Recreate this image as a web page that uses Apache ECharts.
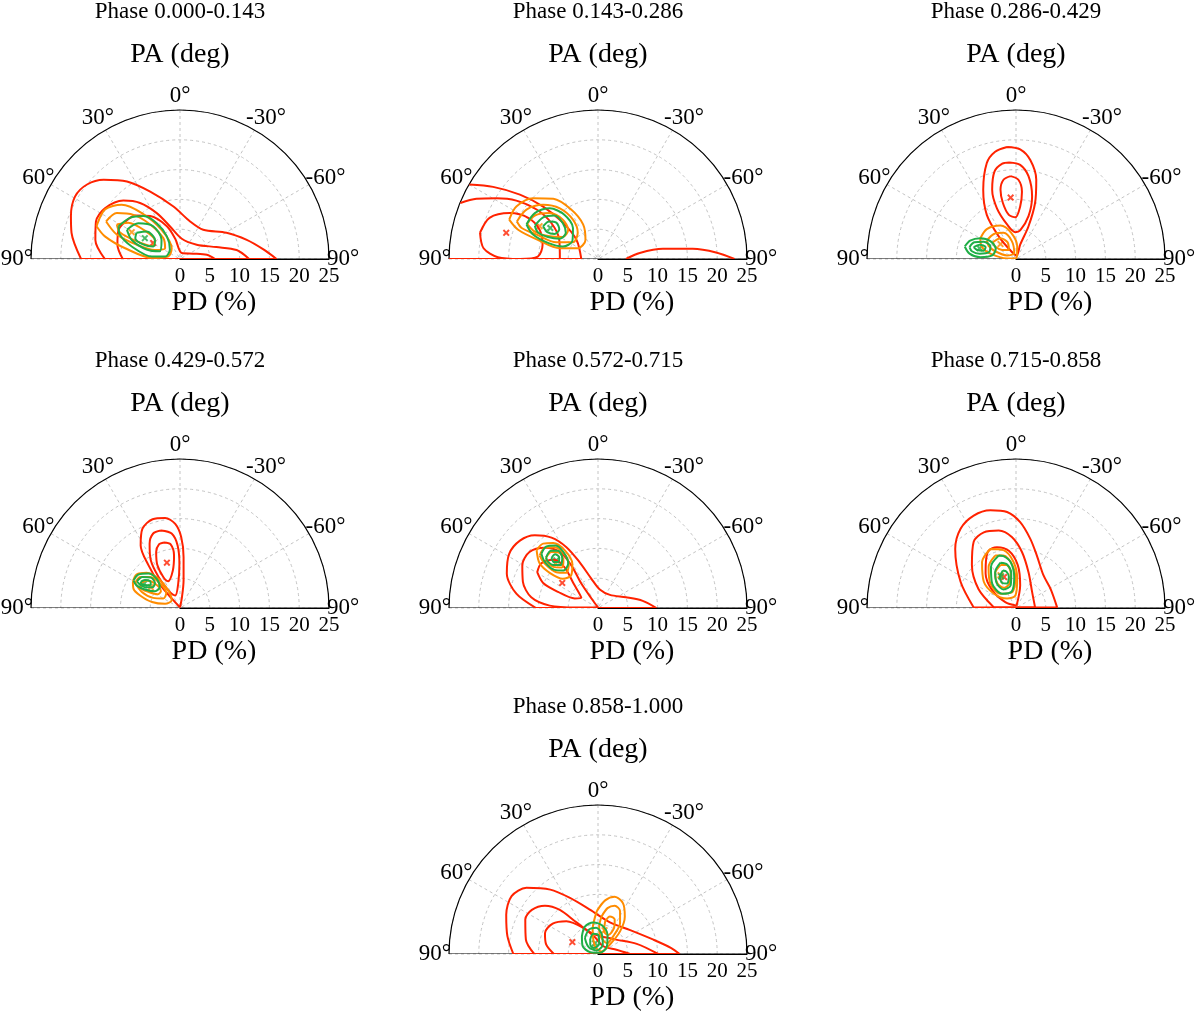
<!DOCTYPE html>
<html>
<head>
<meta charset="utf-8">
<script src="https://cdn.jsdelivr.net/npm/echarts@6/dist/echarts.min.js"></script>
<style>
  html, body { margin: 0; padding: 0; background: #fff; }
  #chart { width: 1200px; height: 1014px; }
</style>
</head>
<body>
<div id="chart"></div>
<script>
// one half-polar panel per phase bin
const phases = ['Phase 0.000-0.143', 'Phase 0.143-0.286', 'Phase 0.286-0.429',
  'Phase 0.429-0.572', 'Phase 0.572-0.715', 'Phase 0.715-0.858', 'Phase 0.858-1.000'];
const pdTicks = [0, 5, 10, 15, 20, 25];
const paTicks = [-90, -60, -30, 0, 30, 60, 90];

// contour vertices as [x, y] in PD (%) units,
// x to the right and y up from the origin (PA = 0 points up, PA = 90 left)
const p1Red = [
  [[-16.6,0],[-18.2,4.4],[-18.3,7.2],[-17.6,10.5],[-15.6,12.5],[-12.8,13.3],[-8.9,13.0],[-5.0,11.3],[-1.1,8.8],[1.7,6.3],[3.9,4.9],[7.8,4.4],[11.2,3.2],[14.0,1.6],[16.2,0]],
  [[-12.6,0],[-14.2,3.2],[-14.1,6.3],[-12.6,8.5],[-9.5,9.8],[-6.7,9.4],[-3.9,7.7],[-1.7,5.5],[0.3,3.4],[2.8,2.4],[6.1,2.0],[9.5,1.5],[11.6,0]],
  [[-9.6,0],[-10.5,2.4],[-10.3,4.9],[-8.9,6.5],[-7.5,7.3],[-5.0,7.2],[-2.2,5.5],[-0.8,3.4],[0.3,1.0],[2.2,0.9],[4.5,0.7],[5.9,0]]
];
const p1Orange = [
  [[-14.0,5.5],[-12.6,8.3],[-9.8,9.1],[-6.4,7.7],[-3.1,4.9],[-1.4,1.8],[-2.0,0.4],[-4.7,0.2],[-9.2,1.8],[-12.6,3.8]],
  [[-12.4,6.3],[-10.6,7.7],[-7.8,7.4],[-5.0,5.8],[-2.8,3.5],[-2.5,1.8],[-4.2,1.5],[-7.3,2.4],[-10.6,4.1]],
  [[-10.6,5.8],[-8.7,6.1],[-6.1,4.9],[-4.2,3.1],[-4.7,2.2],[-7.3,3.0],[-10.1,4.5]]
];
const p1Green = [
  [[-10.3,5.5],[-8.4,6.9],[-6.1,7.2],[-3.9,6.0],[-2.2,3.8],[-1.7,1.6],[-2.5,0.4],[-4.7,0.4],[-8.1,2.1],[-10.1,4.1]],
  [[-8.9,4.9],[-7.0,6.0],[-4.5,5.5],[-3.1,3.2],[-3.4,1.3],[-5.6,1.6],[-8.1,3.2]],
  [[-7.3,4.4],[-5.6,4.6],[-4.2,3.2],[-4.5,2.1],[-6.1,2.4],[-7.5,3.5]]
];
const p1Peaks = [[-4.5,2.7],[-8.1,4.5],[-5.9,3.5]]; // red, orange, green

const p2Red = [
  [[-19.8,4.4],[-18.2,6.9],[-14.8,7.7],[-11.7,6.9],[-9.8,4.9],[-9.3,2.4],[-10.1,0.4],[-13.1,0],[-16.8,0.3],[-19.2,1.8]]
];
// contours cut by the plot edge, drawn open
const p2RedOpen = [
  [[-21.6,12.5],[-17.6,12.1],[-13.1,10.8],[-9.2,8.8],[-5.9,6.1],[-3.6,3.2],[-2.8,0],[-25.0,0]],
  [[-23.1,9.4],[-20.4,10.1],[-17.0,10.2],[-13.7,9.8],[-10.3,8.3],[-7.8,6.0],[-6.5,3.2],[-6.4,0]],
  [[4.7,0],[7.0,1.0],[10.9,1.7],[15.9,1.7],[19.8,1.1],[22.9,0]]
];
const p2Orange = [
  [[-14.9,6.6],[-13.7,8.8],[-10.9,10.2],[-7.5,10.1],[-4.5,8.3],[-2.5,5.8],[-2.1,3.2],[-3.4,1.8],[-6.4,1.8],[-10.1,3.2],[-13.4,4.9]],
  [[-13.6,6.3],[-12.0,8.3],[-9.2,9.1],[-6.4,8.5],[-4.2,6.6],[-3.4,4.4],[-4.2,2.8],[-7.0,2.8],[-10.3,4.1],[-12.8,5.2]],
  [[-11.9,5.9],[-10.6,7.3],[-8.1,7.7],[-5.9,6.6],[-5.0,4.9],[-5.9,3.7],[-8.1,3.8],[-10.6,4.6]]
];
const p2Green = [
  [[-12.0,5.8],[-10.6,7.7],[-8.1,8.5],[-5.6,7.4],[-4.2,5.2],[-4.3,3.0],[-5.9,2.1],[-8.4,2.7],[-10.9,4.1]],
  [[-10.6,5.6],[-9.2,7.0],[-7.3,7.3],[-5.9,6.0],[-5.4,4.4],[-6.4,3.4],[-8.4,3.7],[-10.1,4.5]],
  [[-9.2,5.5],[-8.2,6.3],[-7.0,6.1],[-6.5,5.0],[-7.3,4.2],[-8.5,4.5]]
];
const p2Peaks = [[-15.4,4.4],[-9.8,5.5],[-8.0,5.2]];

const p3Red = [
  [[-1.5,18.8],[0.7,18.4],[2.4,16.6],[3.4,13.3],[3.2,9.4],[2.1,5.5],[0.7,2.4],[0.1,0.6],[-0.8,1.3],[-2.9,3.8],[-4.9,7.4],[-5.5,11.6],[-4.9,16.1],[-3.5,18.0]],
  [[-1.1,16.2],[0.7,15.8],[2.1,13.9],[2.7,10.5],[2.1,7.2],[0.7,4.8],[-0.1,4.5],[-1.5,5.8],[-3.2,8.5],[-4.0,11.6],[-3.6,14.7],[-2.3,16.0]],
  [[-0.9,13.9],[0.4,13.3],[1.0,11.3],[0.7,8.8],[-0.1,7.0],[-1.2,7.4],[-2.2,9.4],[-2.6,11.6],[-2.1,13.3]]
];
const p3Orange = [
  [[-6.0,3.4],[-4.9,5.0],[-2.6,5.6],[-0.8,4.4],[0.2,2.1],[0.1,0.2],[-1.5,0.1],[-4.3,0.9],[-5.7,2.0]],
  [[-4.9,3.1],[-3.7,4.2],[-2.1,4.4],[-0.7,3.0],[-0.3,1.0],[-1.5,0.6],[-3.5,1.3],[-4.6,2.2]],
  [[-3.9,2.8],[-2.6,3.5],[-1.4,2.8],[-1.2,1.5],[-2.3,1.5],[-3.4,2.0]]
];
const p3Green = [
  [[-8.6,2.1],[-7.7,3.1],[-6.0,3.5],[-4.3,3.0],[-3.4,1.7],[-4.0,0.6],[-6.0,0.3],[-7.8,0.9]],
  [[-7.8,2.0],[-7.0,2.8],[-5.4,2.9],[-4.3,2.1],[-4.6,1.1],[-6.1,0.9],[-7.4,1.3]],
  [[-7.1,2.0],[-6.1,2.4],[-5.1,2.0],[-5.4,1.4],[-6.5,1.5]]
];
const p3Peaks = [[-0.9,10.3],[-2.6,2.5],[-6.1,1.8]];

const p4Red = [
  [[0.0,0.1],[-1.4,1.6],[-3.4,4.0],[-5.3,7.2],[-6.6,10.5],[-6.3,13.3],[-4.6,14.9],[-2.5,15.1],[-0.8,14.1],[0.2,11.9],[0.6,8.5],[0.6,4.6],[0.3,1.6]],
  [[-3.2,13.0],[-1.4,12.5],[-0.4,10.5],[-0.1,7.4],[-0.3,4.1],[-0.8,2.1],[-2.0,3.0],[-3.6,5.2],[-4.9,8.0],[-5.1,10.8],[-4.5,12.5]],
  [[-2.7,11.0],[-1.6,10.7],[-1.0,8.8],[-1.2,6.3],[-2.0,4.5],[-2.8,5.2],[-3.8,7.2],[-4.0,9.4],[-3.5,10.7]]
];
const p4Orange = [
  [[-7.9,4.4],[-7.3,5.6],[-5.6,5.9],[-3.6,4.9],[-2.0,3.0],[-1.4,1.3],[-2.5,0.7],[-4.7,1.0],[-6.7,2.1],[-7.8,3.2]],
  [[-7.5,4.2],[-6.7,5.2],[-5.0,5.2],[-3.4,4.2],[-2.3,2.5],[-2.8,1.6],[-4.5,1.7],[-6.4,2.7]],
  [[-6.7,4.0],[-5.6,4.6],[-4.2,4.1],[-3.2,2.8],[-3.8,2.3],[-5.3,2.7],[-6.4,3.2]]
];
const p4Green = [
  [[-7.8,4.6],[-7.0,5.6],[-5.3,5.8],[-3.9,4.9],[-3.4,3.5],[-4.2,2.8],[-5.9,3.1],[-7.3,3.8]],
  [[-7.2,4.5],[-6.3,5.2],[-4.9,5.1],[-4.2,4.2],[-4.6,3.5],[-5.9,3.5],[-6.8,4.0]],
  [[-6.6,4.4],[-5.9,4.7],[-5.0,4.5],[-4.9,3.9],[-5.7,3.8],[-6.4,4.0]]
];
const p4Peaks = [[-2.2,7.6],[-4.9,3.5],[-6.0,4.1]];

const p5Red = [
  [[-10.4,0],[-13.7,2.4],[-15.3,5.8],[-14.9,9.1],[-13.1,11.3],[-10.6,12.2],[-7.8,11.8],[-5.3,10.2],[-3.1,7.7],[-1.1,4.9],[0.3,3.1],[2.0,2.2],[4.7,1.8],[7.5,1.2],[9.8,0]],
  [[0.0,0.1],[-1.1,1.6],[-2.8,4.1],[-4.5,7.2],[-6.4,9.4],[-8.9,10.1],[-11.5,9.4],[-12.7,7.2],[-12.6,4.4],[-11.2,1.8],[-8.1,0.4],[-3.6,0.1]],
  [[-10.2,6.0],[-9.5,7.5],[-7.4,8.1],[-5.6,6.8],[-4.1,4.1],[-2.8,1.7],[-3.9,1.6],[-6.7,2.7],[-9.2,4.2]]
];
const p5Orange = [
  [[-10.3,9.7],[-9.2,10.8],[-7.5,10.9],[-5.6,9.7],[-4.3,7.4],[-4.5,5.5],[-5.9,4.9],[-8.1,5.9],[-9.8,7.5]],
  [[-9.8,8.8],[-8.9,10.1],[-7.3,10.2],[-5.6,9.0],[-4.9,7.2],[-5.4,5.9],[-7.0,6.0],[-8.9,7.4]],
  [[-8.7,8.5],[-7.8,9.4],[-6.4,9.2],[-5.8,7.9],[-6.1,6.8],[-7.5,6.9],[-8.5,7.7]]
];
const p5Green = [
  [[-9.5,9.1],[-8.7,10.3],[-7.1,10.5],[-5.8,9.4],[-5.0,7.5],[-5.8,6.3],[-7.3,6.4],[-8.9,7.7]],
  [[-8.7,8.5],[-7.9,9.6],[-6.7,9.6],[-6.0,8.4],[-6.3,7.2],[-7.5,7.2],[-8.5,7.9]],
  [[-7.8,8.4],[-7.2,9.0],[-6.5,8.5],[-6.6,7.7],[-7.4,7.7]]
];
const p5Peaks = [[-6.0,4.2],[-7.1,7.5],[-7.0,8.0]];

const p6Red = [
  [[-7.1,0.1],[-9.3,4.4],[-10.2,9.9],[-9.3,13.3],[-7.1,15.5],[-4.3,16.4],[-1.5,16.1],[0.7,14.4],[2.4,11.6],[3.5,8.8],[4.6,5.5],[5.8,3.2],[6.9,0.1]],
  [[-3.7,0.1],[-6.3,3.2],[-7.4,7.2],[-7.1,11.1],[-5.4,12.7],[-2.9,13.0],[-0.7,11.9],[1.0,9.4],[2.1,6.0],[2.7,2.7],[3.2,0.1]],
  [[0.1,0.4],[0.7,3.8],[0.3,7.2],[-1.2,9.6],[-3.2,10.2],[-4.6,9.6],[-5.0,8.3],[-5.1,5.8],[-4.0,3.0],[-1.8,1.0]]
];
const p6Orange = [
  [[-4.3,9.9],[-5.7,7.7],[-5.4,4.4],[-3.7,2.4],[-1.5,1.6],[-0.1,2.1],[0.2,4.9],[-0.4,7.7],[-2.1,9.7]],
  [[-3.5,8.8],[-4.6,6.9],[-4.3,4.1],[-2.6,2.4],[-0.7,2.6],[-0.1,4.9],[-0.7,7.4],[-2.1,8.8]],
  [[-2.6,7.2],[-3.5,5.8],[-3.1,4.1],[-2.0,3.4],[-1.1,4.1],[-0.9,6.0],[-1.6,7.2]]
];
const p6Green = [
  [[-2.9,8.8],[-4.2,6.9],[-4.0,4.1],[-2.3,2.4],[-0.7,2.8],[-0.3,5.2],[-0.9,7.7],[-2.1,8.7]],
  [[-2.6,7.6],[-3.5,6.0],[-3.2,4.1],[-2.1,3.1],[-0.9,3.8],[-0.8,5.8],[-1.5,7.3]],
  [[-2.2,6.3],[-2.7,5.2],[-2.3,4.2],[-1.5,4.1],[-1.2,5.2],[-1.6,6.1]]
];
const p6Peaks = [[-2.0,5.2],[-2.6,5.5],[-2.5,5.3]];

const p7Red = [
  [[-14.2,0],[-15.2,3.0],[-15.4,6.6],[-14.5,9.7],[-12.0,11.1],[-8.0,10.8],[-4.7,9.4],[-1.3,7.4],[2.0,5.3],[5.4,4.0],[9.3,2.4],[12.3,1.0],[13.7,0]],
  [[-10.7,0],[-12.1,2.4],[-12.2,5.8],[-11.1,7.4],[-8.9,8.1],[-6.4,7.4],[-3.6,5.3],[-0.8,3.4],[2.6,2.5],[6.5,1.7],[10.1,0]],
  [[-7.4,0],[-8.7,1.6],[-8.9,3.5],[-7.6,5.1],[-5.3,5.5],[-2.5,4.4],[-0.5,2.8],[0.9,1.3],[3.1,0.7],[5.4,0]]
];
const p7Orange = [
  [[-0.2,7.2],[1.2,9.0],[2.8,9.6],[4.2,8.5],[4.5,6.3],[3.7,3.8],[2.0,1.6],[0.6,0.4],[-0.5,1.3],[-0.9,4.1]],
  [[0.6,6.3],[1.6,7.7],[2.8,8.1],[3.7,7.2],[3.7,5.2],[2.7,3.2],[1.5,1.8],[0.4,3.0],[0.2,4.6]],
  [[1.2,5.5],[2.0,6.3],[2.8,5.8],[2.7,4.4],[1.7,3.2],[1.0,3.8]]
];
const p7Green = [
  [[-2.7,3.0],[-2.2,4.6],[-0.8,5.3],[0.8,4.7],[1.6,3.2],[1.5,1.3],[0.3,0.2],[-1.3,0.3],[-2.6,1.4]],
  [[-2.2,2.7],[-1.5,4.1],[-0.3,4.4],[0.6,3.4],[0.8,1.6],[-0.2,0.6],[-1.6,1.2]],
  [[-1.3,2.5],[-0.8,3.4],[0.1,3.1],[0.2,1.7],[-0.7,1.0],[-1.3,1.6]]
];
const p7Peaks = [[-4.3,2.0],[1.1,4.0],[-0.5,1.8]];

const panels = [
  { red: p1Red, open: [], orange: p1Orange, green: p1Green, peaks: p1Peaks },
  { red: p2Red, open: p2RedOpen, orange: p2Orange, green: p2Green, peaks: p2Peaks },
  { red: p3Red, open: [], orange: p3Orange, green: p3Green, peaks: p3Peaks },
  { red: p4Red, open: [], orange: p4Orange, green: p4Green, peaks: p4Peaks },
  { red: p5Red, open: [], orange: p5Orange, green: p5Green, peaks: p5Peaks },
  { red: p6Red, open: [], orange: p6Orange, green: p6Green, peaks: p6Peaks },
  { red: p7Red, open: [], orange: p7Orange, green: p7Green, peaks: p7Peaks }
];

// layout: pole of each half disc, in px
const centers = [[180, 259], [598, 259], [1016, 259], [180, 608], [598, 608], [1016, 608], [598, 954]];
const R = 149;
const FONT = "'Liberation Serif', 'Times New Roman', serif";
const COLORS = { red: '#ff2200', orange: '#ff8c00', green: '#1fae46' };
const CROSS = 'path://M0,2L2,0L5,3L8,0L10,2L7,5L10,8L8,10L5,7L2,10L0,8L3,5Z';

// echarts anchors angle labels by their corner; padding centres them on a ring like the original
const tickRich = {
  t0: { padding: [0, 0, 22, 0] },
  t30: { padding: [0, 1, 17, 1] },
  t60: { padding: [0, 13, 5, 13] },
  t90: { padding: [0, 17, 0, 17] }
};
Object.values(tickRich).forEach((s) => Object.assign(s, { fontFamily: FONT, fontSize: 23, color: '#000' }));

// [x, y] -> [PD, PA]
const toPolar = ([x, y]) => [Math.hypot(x, y), Math.atan2(-x, y) * 180 / Math.PI];

const chart = echarts.init(document.getElementById('chart'));

const polar = [], angleAxis = [], radiusAxis = [], series = [], graphic = [];

panels.forEach((p, i) => {
  const [cx, cy] = centers[i];
  polar.push({ center: [cx, cy], radius: R });
  angleAxis.push({
    polarIndex: i,
    type: 'value',
    min: paTicks[0],
    max: paTicks[paTicks.length - 1],
    interval: 30,
    startAngle: 0,
    endAngle: 180,
    clockwise: false,
    axisLine: { lineStyle: { color: '#000', width: 1.2 } },
    axisTick: { show: false },
    axisLabel: {
      margin: -19,
      color: '#000',
      fontFamily: FONT,
      fontSize: 23,
      formatter: (v) => '{t' + Math.abs(v) + '|' + (v === -90 ? 90 : v) + '°}',
      rich: tickRich
    },
    splitLine: { lineStyle: { color: '#c4c4c4', type: [3, 3], width: 1 } }
  });
  radiusAxis.push({
    polarIndex: i,
    type: 'value',
    min: pdTicks[0],
    max: pdTicks[pdTicks.length - 1],
    interval: 5,
    axisLine: { lineStyle: { color: '#000', width: 1.2 } },
    axisTick: { show: false },
    axisLabel: {
      color: '#000', fontFamily: FONT, fontSize: 21,
      margin: -17, align: 'center', verticalAlign: 'middle'
    },
    splitLine: { lineStyle: { color: '#c4c4c4', type: [3, 3], width: 1 } }
  });

  // flat edge of the half disc
  series.push({
    type: 'line', coordinateSystem: 'polar', polarIndex: i,
    data: [[25, 90], [25, -90]],
    symbol: 'none', silent: true, clip: false,
    lineStyle: { color: '#000', width: 1.2 }
  });

  const addContour = (pts, color, closed) => {
    const data = pts.map(toPolar);
    if (closed) data.push(data[0]);
    series.push({
      type: 'line', coordinateSystem: 'polar', polarIndex: i,
      data, smooth: 0.3, symbol: 'none', silent: true,
      lineStyle: { color, width: 2 }
    });
  };
  p.red.forEach((c) => addContour(c, COLORS.red, true));
  p.open.forEach((c) => addContour(c, COLORS.red, false));
  p.orange.forEach((c) => addContour(c, COLORS.orange, true));
  p.green.forEach((c) => addContour(c, COLORS.green, true));

  ['red', 'orange', 'green'].forEach((k, j) => {
    series.push({
      type: 'scatter', coordinateSystem: 'polar', polarIndex: i,
      data: [toPolar(p.peaks[j])],
      symbol: CROSS, symbolSize: 7, silent: true,
      itemStyle: { color: COLORS[k] }
    });
  });

  const txt = (text, x, y, size) => ({
    type: 'text', x, y, silent: true,
    style: { text, fontFamily: FONT, fontSize: size, fill: '#000', align: 'center', verticalAlign: 'middle' }
  });
  graphic.push(txt(phases[i], cx, cy - 247, 23));
  graphic.push(txt('PA (deg)', cx, cy - 204, 28));
  graphic.push(txt('PD (%)', cx + 34, cy + 44, 28));
});

chart.setOption({
  animation: false,
  backgroundColor: '#fff',
  polar, angleAxis, radiusAxis, series, graphic
});
</script>
</body>
</html>
